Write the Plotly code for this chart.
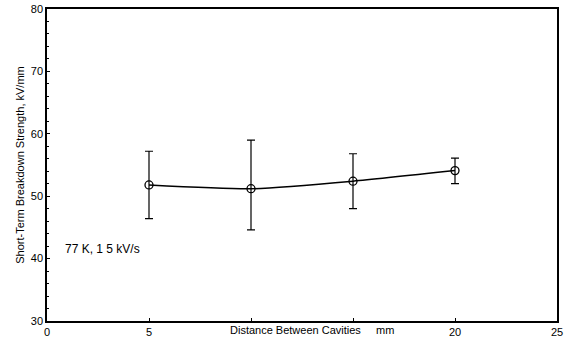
import plotly.graph_objects as go

distance_mm = [5, 10, 15, 20]
strength_kv_mm = [51.8, 51.2, 52.4, 54.1]
err_plus = [5.4, 7.8, 4.4, 2.0]
err_minus = [5.4, 6.6, 4.4, 2.1]

x_tickvals = [0, 5, 10, 15, 20, 25]
x_ticktext = ["0", "5", "", "", "20", "25"]
y_tickvals = [30, 40, 50, 60, 70, 80]

fig = go.Figure()
fig.add_trace(go.Scatter(
    x=distance_mm, y=strength_kv_mm,
    mode="lines+markers",
    line=dict(color="black", width=1.5, shape="spline", smoothing=0.6),
    marker=dict(symbol="circle-open", size=8, color="black", line=dict(width=1.3)),
    error_y=dict(type="data", symmetric=False, array=err_plus, arrayminus=err_minus,
                 color="black", thickness=1.2, width=4),
    showlegend=False,
))

fig.add_annotation(x=0.8, y=41.5, xref="x", yref="y", text="77 K, 1 5 kV/s",
                   showarrow=False, xanchor="left",
                   font=dict(family="Liberation Sans, Arial", size=12, color="black"))

fig.add_annotation(x=0.52, y=-0.03, xref="paper", yref="paper",
                   text="Distance Between Cavities     mm",
                   showarrow=False, xanchor="center", yanchor="middle",
                   font=dict(family="Liberation Sans, Arial", size=11, color="black"))

fig.update_xaxes(range=[0, 25], tickvals=x_tickvals, ticktext=x_ticktext,
                 showgrid=False, zeroline=False, showline=True, linecolor="black",
                 linewidth=1.5, mirror=True, ticks="inside", ticklen=3, tickcolor="black",
                 automargin=False,
                 tickfont=dict(size=11, color="black"))
fig.update_yaxes(range=[30, 80], tickvals=y_tickvals,
                 showgrid=False, zeroline=False, showline=True, linecolor="black",
                 linewidth=1.5, mirror=True, ticks="inside", ticklen=3, tickcolor="black",
                 minor=dict(ticks="inside", ticklen=2, dtick=2, tickcolor="black"),
                 automargin=False,
                 title=dict(text="Short-Term Breakdown Strength, kV/mm", standoff=4,
                            font=dict(size=11, color="black")),
                 tickfont=dict(size=11, color="black"))

fig.update_layout(width=565, height=342,
                  margin=dict(l=47, r=8, t=9, b=21),
                  plot_bgcolor="white", paper_bgcolor="white",
                  font=dict(family="Liberation Sans, Arial", color="black"))

fig.write_html("out.html")
